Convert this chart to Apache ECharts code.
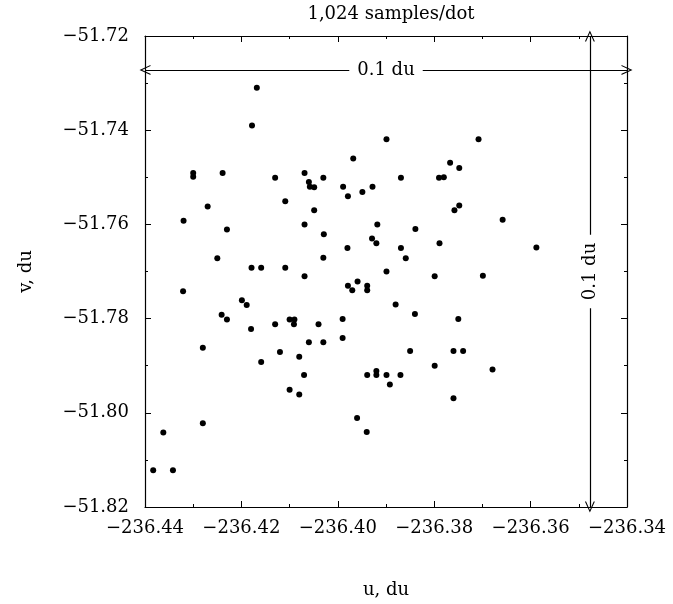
<!DOCTYPE html>
<html>
<head>
<meta charset="utf-8">
<script src="https://cdn.jsdelivr.net/npm/echarts@6/dist/echarts.min.js"></script>
<style>html,body{margin:0;padding:0;background:#fff}#c{width:673px;height:604px}</style>
</head>
<body>
<div id="c"></div>
<script>
const titleText = '1,024 samples/dot';
const xName = 'u, du';
const yName = 'v, du';
const xMin = -236.44, xMax = -236.34, xStep = 0.02;
const yMin = -51.82, yMax = -51.72, yStep = 0.02;
const spanLabel = '0.1 du';
const hArrowV = -51.7272;
const vArrowU = -236.3477;

const uVals = [
-236.4168,-236.4178,-236.3899,-236.3968,-236.4300,-236.4300,-236.4239,-236.4130,-236.4069,-236.4060,
-236.4058,-236.4049,-236.4030,-236.3989,-236.3979,-236.3949,-236.3928,-236.4270,-236.4109,-236.4320,
-236.4049,-236.4230,-236.4069,-236.3918,-236.4029,-236.3929,-236.3920,-236.3980,-236.4250,-236.4030,
-236.4179,-236.4159,-236.4109,-236.3899,-236.3708,-236.3767,-236.3748,-236.3869,-236.3790,-236.3780,
-236.3748,-236.3758,-236.3658,-236.3839,-236.3869,-236.3859,-236.3789,-236.3588,-236.4069,-236.4321,
-236.3979,-236.3970,-236.3959,-236.3939,-236.3939,-236.4199,-236.4189,-236.4241,-236.4230,-236.4180,
-236.4130,-236.4100,-236.4090,-236.4091,-236.4040,-236.3990,-236.3990,-236.4060,-236.4030,-236.4280,
-236.4120,-236.4080,-236.4159,-236.4070,-236.3939,-236.3920,-236.3920,-236.3899,-236.3892,-236.4100,
-236.4080,-236.3960,-236.3940,-236.4280,-236.4362,-236.4383,-236.4342,-236.3799,-236.3699,-236.3880,
-236.3840,-236.3750,-236.3850,-236.3760,-236.3740,-236.3799,-236.3679,-236.3870,-236.3760
];
const vVals = [
-51.7310,-51.7390,-51.7419,-51.7460,-51.7491,-51.7499,-51.7491,-51.7501,-51.7491,-51.7510,
-51.7520,-51.7521,-51.7501,-51.7520,-51.7540,-51.7531,-51.7520,-51.7562,-51.7551,-51.7592,
-51.7570,-51.7611,-51.7600,-51.7600,-51.7621,-51.7630,-51.7640,-51.7650,-51.7672,-51.7671,
-51.7692,-51.7692,-51.7692,-51.7700,-51.7419,-51.7469,-51.7480,-51.7501,-51.7501,-51.7500,
-51.7560,-51.7570,-51.7590,-51.7610,-51.7650,-51.7672,-51.7640,-51.7649,-51.7710,-51.7742,
-51.7730,-51.7740,-51.7721,-51.7730,-51.7740,-51.7761,-51.7771,-51.7792,-51.7802,-51.7822,
-51.7812,-51.7802,-51.7802,-51.7812,-51.7812,-51.7801,-51.7841,-51.7850,-51.7850,-51.7862,
-51.7871,-51.7881,-51.7892,-51.7920,-51.7920,-51.7911,-51.7920,-51.7920,-51.7940,-51.7951,
-51.7961,-51.8011,-51.8041,-51.8022,-51.8042,-51.8122,-51.8122,-51.7710,-51.7709,-51.7770,
-51.7790,-51.7801,-51.7869,-51.7869,-51.7869,-51.7900,-51.7908,-51.7920,-51.7969
];

const points = uVals.map((u, i) => [u, vVals[i]]);
const FONT = 'DejaVu Serif';
const fmt = v => v.toFixed(2).replace('-', '\u2212');
const arrowPath = 'path://M5,0L10,11L8.8,11L5,2.6L1.2,11L0,11Z';

function axisCommon(extra) {
  return Object.assign({
    type: 'value',
    axisLine: {show: true, onZero: false, lineStyle: {color: '#000', width: 1.2}},
    axisTick: {show: true, inside: true, length: 6, lineStyle: {color: '#000', width: 1}},
    minorTick: {show: true, splitNumber: 2, length: 3, lineStyle: {color: '#000', width: 1}},
    splitLine: {show: false},
    minorSplitLine: {show: false}
  }, extra);
}

const chart = echarts.init(document.getElementById('c'), null, {renderer: 'canvas'});
chart.setOption({
  animation: false,
  backgroundColor: '#fff',
  title: {
    text: titleText, left: 386, top: 0, textAlign: 'center',
    textStyle: {fontFamily: FONT, fontSize: 18, fontWeight: 'normal', color: '#000'}
  },
  grid: {left: 145, right: 46, top: 36, bottom: 84, containLabel: false},
  xAxis: [
    axisCommon({
      position: 'bottom', min: xMin, max: xMax, interval: xStep,
      name: xName, nameLocation: 'middle', nameGap: 74,
      nameTextStyle: {fontFamily: FONT, fontSize: 18, color: '#000'},
      axisLabel: {formatter: fmt, margin: 12, fontFamily: FONT, fontSize: 18, color: '#000'}
    }),
    axisCommon({
      position: 'top', min: xMin, max: xMax, interval: xStep,
      axisLabel: {show: false}
    })
  ],
  yAxis: [
    axisCommon({
      position: 'left', min: yMin, max: yMax, interval: yStep,
      name: yName, nameLocation: 'middle', nameGap: 110, nameRotate: 90,
      nameTextStyle: {fontFamily: FONT, fontSize: 18, color: '#000'},
      axisLabel: {formatter: fmt, margin: 16, fontFamily: FONT, fontSize: 18, color: '#000'}
    }),
    axisCommon({
      position: 'right', min: yMin, max: yMax, interval: yStep,
      axisLabel: {show: false}
    })
  ],
  series: [{
    type: 'scatter',
    xAxisIndex: 0, yAxisIndex: 0,
    data: points,
    symbol: 'circle',
    symbolSize: 6,
    itemStyle: {color: '#000', opacity: 1},
    silent: true,
    markLine: {
      silent: true,
      animation: false,
      symbol: [arrowPath, arrowPath],
      symbolSize: [10, 11],
      lineStyle: {color: '#000', width: 1.2, type: 'solid', opacity: 1},
      label: {
        show: true, position: 'middle', formatter: spanLabel,
        distance: 0, verticalAlign: 'middle',
        fontFamily: FONT, fontSize: 18, color: '#000',
        backgroundColor: '#fff', padding: [2, 8]
      },
      emphasis: {disabled: true},
      data: [
        [{coord: [xMin, hArrowV]}, {coord: [xMax, hArrowV]}],
        [{coord: [vArrowU, yMin]}, {coord: [vArrowU, yMax]}]
      ]
    }
  }]
});
</script>
</body>
</html>
